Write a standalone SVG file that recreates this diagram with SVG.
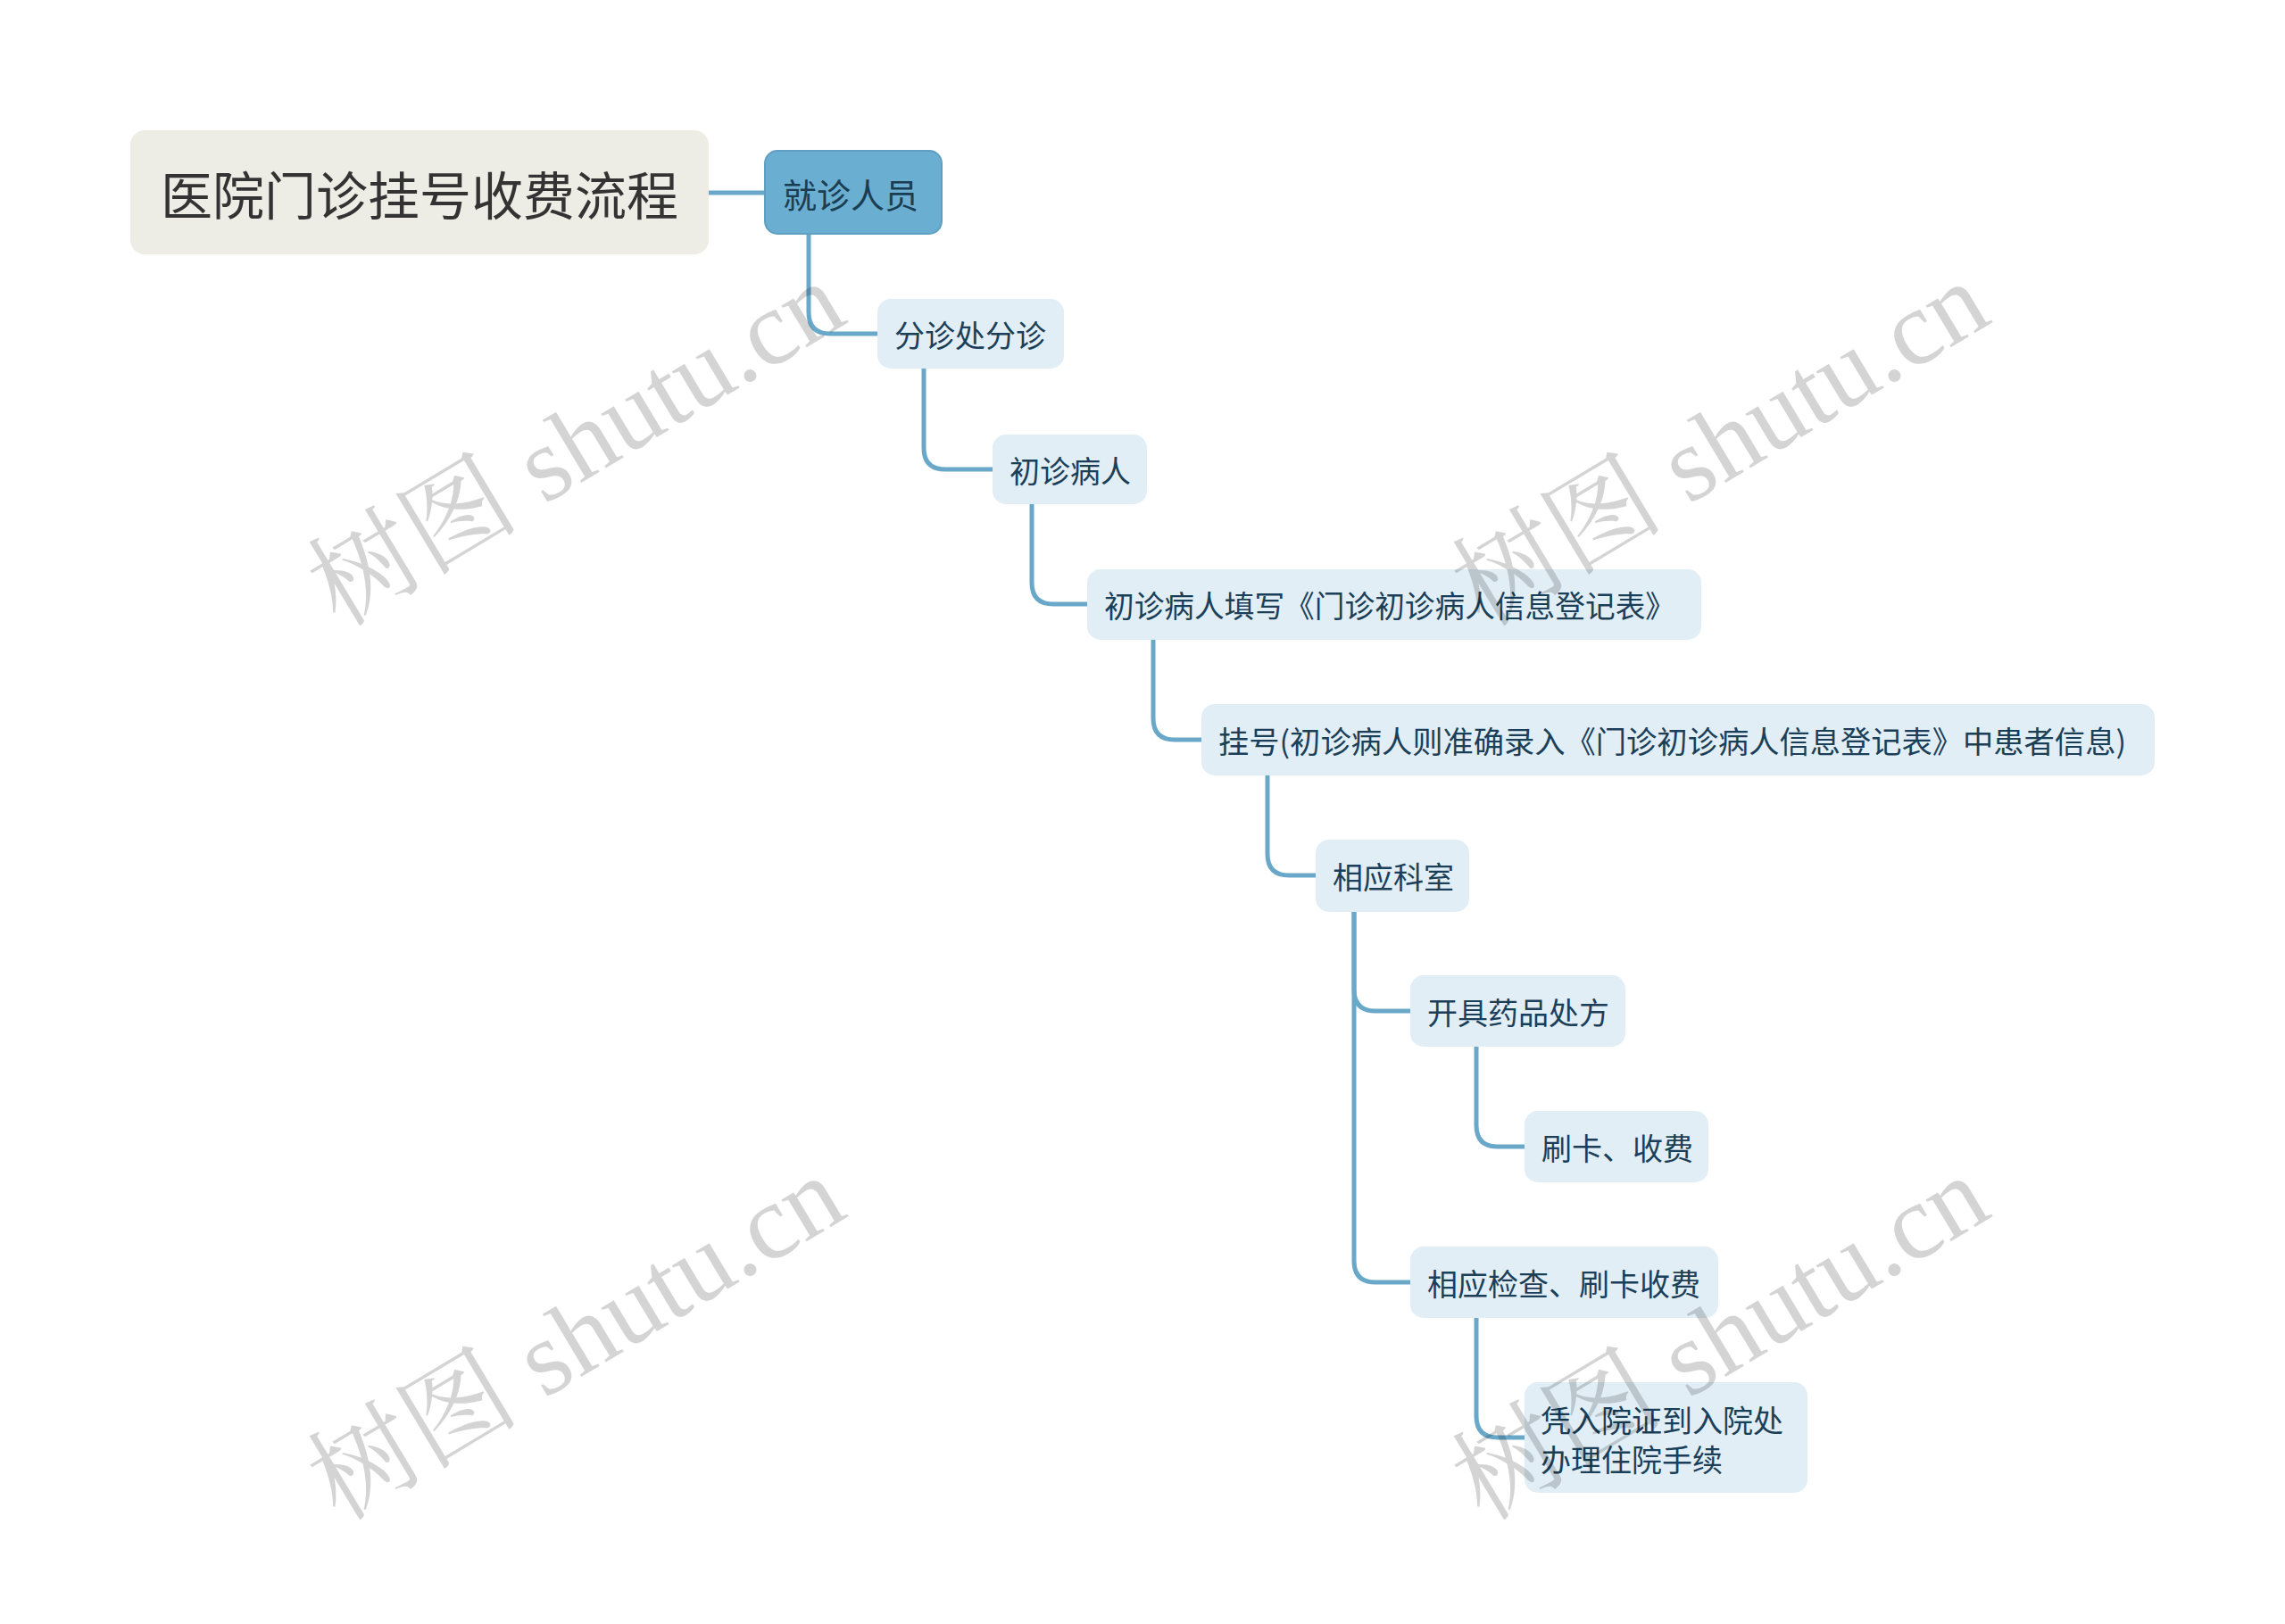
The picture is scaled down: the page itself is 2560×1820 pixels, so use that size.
<svg xmlns="http://www.w3.org/2000/svg" width="2560" height="1820" viewBox="0 0 2560 1820">
<style>
.bg{fill:#ffffff}
.root rect{fill:#EEEDE5}
.root text{fill:#333333;font-size:58px}
.main rect{fill:#6AAED1;stroke:#5E9FC2;stroke-width:2}
.sub rect{fill:#E1EEF6}
text{font-family:"Noto Sans CJK SC","Noto Sans",sans-serif;dominant-baseline:central}
.main text{fill:#1B3D52;font-size:38px}
.sub text{fill:#1B3F58;font-size:34px}
.conn path{fill:none;stroke:#6AA8C9;stroke-width:5;stroke-linecap:butt}
.wm text{font-family:"Liberation Serif","Noto Serif CJK SC","Noto Sans CJK SC",serif;font-size:119px;fill:#000;fill-opacity:0.17;dominant-baseline:alphabetic}
</style>
<rect class="bg" x="0" y="0" width="2560" height="1820"/>
<g id="connectors" class="conn">
<path d="M794,216 H857"/>
<path d="M906,262 V350 Q906,374 930,374 H983"/>
<path d="M1035,413 V502 Q1035,526 1059,526 H1112"/>
<path d="M1156,565 V653 Q1156,677 1180,677 H1218"/>
<path d="M1292,717 V805 Q1292,829 1316,829 H1346"/>
<path d="M1420,869 V957 Q1420,981 1444,981 H1474"/>
<path d="M1517,1022 V1109 Q1517,1133 1541,1133 H1580"/>
<path d="M1517,1022 V1413 Q1517,1437 1541,1437 H1580"/>
<path d="M1654,1173 V1261 Q1654,1285 1678,1285 H1708"/>
<path d="M1654,1477 V1587 Q1654,1611 1678,1611 H1708"/>
</g>
<g id="n0" class="root"><rect x="146" y="146" width="648" height="139" rx="16"/><text x="180" y="216">医院门诊挂号收费流程</text></g>
<g id="n1" class="main"><rect x="857" y="169" width="198" height="93" rx="14"/><text x="877" y="216">就诊人员</text></g>
<g id="n2" class="sub"><rect x="983" y="335" width="209" height="78" rx="15"/><text x="1002" y="374">分诊处分诊</text></g>
<g id="n3" class="sub"><rect x="1112" y="487" width="173" height="78" rx="15"/><text x="1131" y="526">初诊病人</text></g>
<g id="n4" class="sub"><rect x="1218" y="638" width="688" height="79" rx="15"/><text x="1237" y="677" textLength="640" lengthAdjust="spacingAndGlyphs">初诊病人填写《门诊初诊病人信息登记表》</text></g>
<g id="n5" class="sub"><rect x="1346" y="789" width="1068" height="80" rx="15"/><text x="1365" y="829" textLength="1017" lengthAdjust="spacingAndGlyphs">挂号(初诊病人则准确录入《门诊初诊病人信息登记表》中患者信息)</text></g>
<g id="n6" class="sub"><rect x="1474" y="941" width="172" height="81" rx="15"/><text x="1493" y="981">相应科室</text></g>
<g id="n7" class="sub"><rect x="1580" y="1093" width="241" height="80" rx="15"/><text x="1599" y="1133">开具药品处方</text></g>
<g id="n8" class="sub"><rect x="1708" y="1245" width="206" height="80" rx="15"/><text x="1727" y="1285">刷卡、收费</text></g>
<g id="n9" class="sub"><rect x="1580" y="1397" width="345" height="80" rx="15"/><text x="1599" y="1437">相应检查、刷卡收费</text></g>
<g id="n10" class="sub"><rect x="1708" y="1549" width="317" height="124" rx="15"/><text x="1726" y="1590">凭入院证到入院处</text><text x="1726" y="1634">办理住院手续</text></g>
<g id="watermark" class="wm">
<text transform="translate(380,704) rotate(-31)">树图 shutu.cn</text>
<text transform="translate(1662,704) rotate(-31)">树图 shutu.cn</text>
<text transform="translate(380,1706) rotate(-31)">树图 shutu.cn</text>
<text transform="translate(1662,1706) rotate(-31)">树图 shutu.cn</text>
</g>
</svg>
